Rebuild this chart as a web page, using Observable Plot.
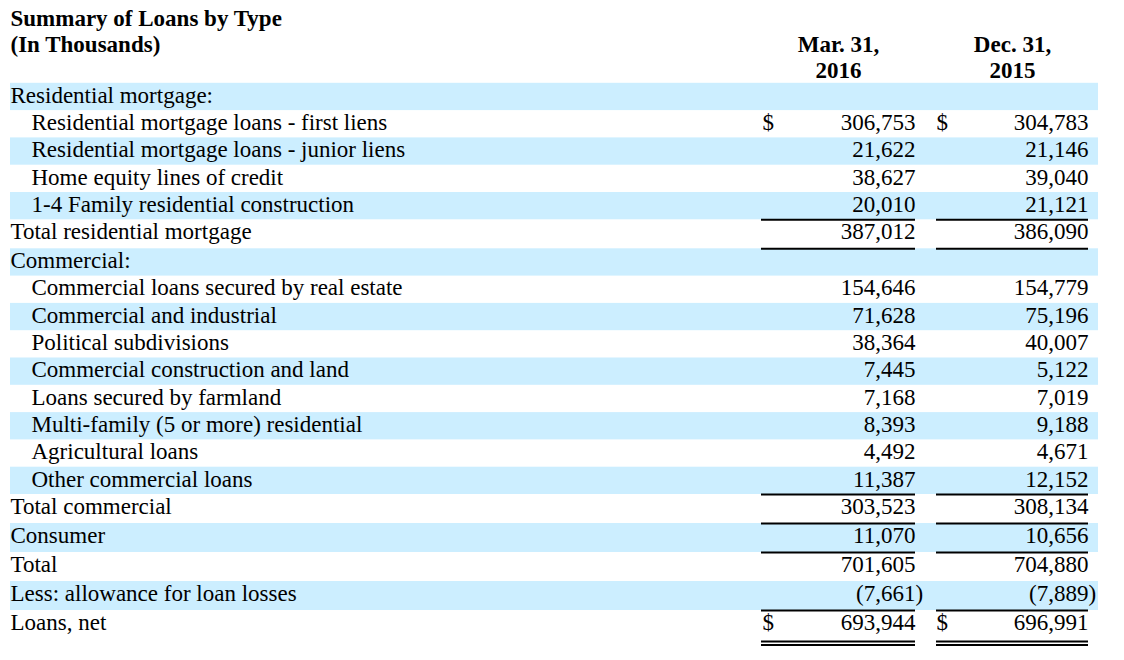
<!DOCTYPE html>
<html>
<head>
<meta charset="utf-8">
<script src="https://cdn.jsdelivr.net/npm/d3@7"></script>
<script src="https://cdn.jsdelivr.net/npm/@observablehq/plot@0.6"></script>
<style>
  html, body { margin: 0; padding: 0; background: #fff; }
</style>
</head>
<body>
<div id="chart"></div>
<script>
// ---- Data ----
const titleLines = ["Summary of Loans by Type", "(In Thousands)"];
const periods = ["Mar. 31,\n2016", "Dec. 31,\n2015"];
const rowLabels = [
  "Residential mortgage:",
  "Residential mortgage loans - first liens",
  "Residential mortgage loans - junior liens",
  "Home equity lines of credit",
  "1-4 Family residential construction",
  "Total residential mortgage",
  "Commercial:",
  "Commercial loans secured by real estate",
  "Commercial and industrial",
  "Political subdivisions",
  "Commercial construction and land",
  "Loans secured by farmland",
  "Multi-family (5 or more) residential",
  "Agricultural loans",
  "Other commercial loans",
  "Total commercial",
  "Consumer",
  "Total",
  "Less: allowance for loan losses",
  "Loans, net"
];
const rowLevel = [0,1,1,1,1,0,0,1,1,1,1,1,1,1,1,0,0,0,0,0];
const mar2016 = [null,306753,21622,38627,20010,387012,null,154646,71628,38364,7445,7168,8393,4492,11387,303523,11070,701605,-7661,693944];
const dec2015 = [null,304783,21146,39040,21121,386090,null,154779,75196,40007,5122,7019,9188,4671,12152,308134,10656,704880,-7889,696991];
const dollarRows = ["Residential mortgage loans - first liens", "Loans, net"];
const singleUnderlineRows = ["1-4 Family residential construction","Total residential mortgage","Other commercial loans","Total commercial","Consumer","Less: allowance for loan losses"];
const doubleUnderlineRows = ["Loans, net"];

// ---- Layout (not data) ----
const W = 1124, H = 660;
const tableLeft = 10, tableRight = 1098, indentX = 31;
const cols = [
  {dollar: 762, right: 915, left: 761, center: 838},
  {dollar: 936, right: 1088, left: 936, center: 1012}
];
const firstRowTop = 82.8, baseRowH = 27.3, totalRowH = 29, textOffset = 12;
const FS = 23;

// compute row geometry
const rows = [];
let rowTop = firstRowTop;
rowLabels.forEach((label, i) => {
  const isTotal = rowLevel[i] === 0 && mar2016[i] != null;
  const h = isTotal ? totalRowH : baseRowH;
  rows.push({label, i, level: rowLevel[i], y0: rowTop, y1: rowTop + h, mid: rowTop + textOffset,
             values: [mar2016[i], dec2015[i]]});
  rowTop += h;
});

const fmt = d3.format(",");
const cells = [];
rows.forEach(r => r.values.forEach((v, c) => {
  if (v != null) cells.push({row: r, col: c, v, text: v < 0 ? "(" + fmt(-v) : fmt(v)});
}));
const dollarCells = [];
rows.filter(r => dollarRows.includes(r.label)).forEach(r => [0, 1].forEach(c => dollarCells.push({row: r, col: c})));
const singleRules = [];
rows.filter(r => singleUnderlineRows.includes(r.label)).forEach(r => [0, 1].forEach(c => singleRules.push({row: r, col: c})));
const doubleRules = [];
rows.filter(r => doubleUnderlineRows.includes(r.label)).forEach(r => [0, 1].forEach(c => {
  doubleRules.push({row: r, col: c, off: 31});
  doubleRules.push({row: r, col: c, off: 34.5});
}));

const titleData = titleLines.map((t, i) => ({t, i}));
const headerData = [];
periods.forEach((p, c) => p.split("\n").forEach((t, i) => headerData.push({t, c, i})));
const lineStep = 26, titleY = 18;

const chart = Plot.plot({
  width: W, height: H, margin: 0,
  x: {type: "linear", domain: [0, W], range: [0, W], axis: null},
  y: {type: "linear", domain: [0, H], range: [0, H], axis: null},
  style: {fontFamily: "'Liberation Serif', 'Times New Roman', serif", fontSize: FS + "px", background: "#fff", color: "#000"},
  marks: [
    Plot.rect(rows.filter(r => r.i % 2 === 0), {
      x1: () => tableLeft, x2: () => tableRight, y1: "y0", y2: "y1", fill: "#cceeff"
    }),
    Plot.text(titleData, {x: () => tableLeft, y: d => titleY + d.i * lineStep, text: "t",
      textAnchor: "start", fontWeight: "bold", fontSize: FS}),
    Plot.text(headerData, {x: d => cols[d.c].center, y: d => titleY + (d.i + 1) * lineStep, text: "t",
      textAnchor: "middle", fontWeight: "bold", fontSize: FS}),
    Plot.text(rows, {x: d => d.level ? indentX : tableLeft, y: "mid", text: "label", textAnchor: "start", fontSize: FS}),
    Plot.text(dollarCells, {x: d => cols[d.col].dollar, y: d => d.row.mid, text: () => "$", textAnchor: "start", fontSize: FS}),
    Plot.text(cells, {x: d => cols[d.col].right, y: d => d.row.mid, text: "text", textAnchor: "end", fontSize: FS}),
    Plot.text(cells.filter(d => d.v < 0), {x: d => cols[d.col].right, y: d => d.row.mid, text: () => ")", textAnchor: "start", fontSize: FS}),
    Plot.ruleY(singleRules, {y: d => d.row.y1, x1: d => cols[d.col].left, x2: d => cols[d.col].right, stroke: "#000", strokeWidth: 2}),
    Plot.ruleY(doubleRules, {y: d => d.row.y0 + d.off, x1: d => cols[d.col].left, x2: d => cols[d.col].right, stroke: "#000", strokeWidth: 2})
  ]
});
document.getElementById("chart").appendChild(chart);
</script>
</body>
</html>
